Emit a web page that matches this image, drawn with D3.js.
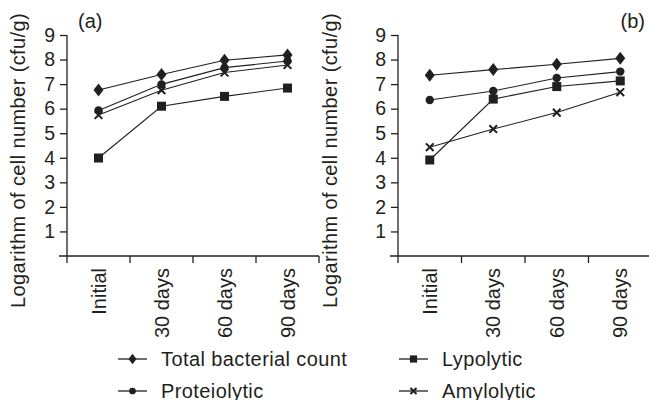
<!DOCTYPE html>
<html><head><meta charset="utf-8">
<script src="https://cdn.jsdelivr.net/npm/d3@7"></script>
<style>body{margin:0;background:#fff}svg{display:block}text{font-family:"Liberation Sans",Arial,sans-serif;fill:#231f20}</style>
</head><body><svg id="c" width="649" height="400"></svg>
<script>
const categories = ["Initial", "30 days", "60 days", "90 days"];
const seriesNames = ["Total bacterial count", "Proteiolytic", "Lypolytic", "Amylolytic"];
const yTicks = [1, 2, 3, 4, 5, 6, 7, 8, 9];
// Panel (a)
const aTotal = [6.76, 7.39, 7.97, 8.19];
const aProteo = [5.93, 6.99, 7.67, 7.94];
const aLypo = [3.99, 6.10, 6.50, 6.84];
const aAmylo = [5.74, 6.75, 7.47, 7.78];
// Panel (b)
const bTotal = [7.36, 7.59, 7.81, 8.05];
const bProteo = [6.35, 6.72, 7.25, 7.51];
const bLypo = [3.91, 6.39, 6.90, 7.13];
const bAmylo = [4.43, 5.17, 5.84, 6.67];

const markers = ["diamond", "circle", "square", "cross"];
const ink = "#231f20";
const svg = d3.select("#c");

function drawMarker(g, type, x, y, s = 1) {
  if (type === "diamond") {
    g.append("path").attr("d", `M0,${-6.5 * s}L${5 * s},0L0,${6.5 * s}L${-5 * s},0Z`).attr("transform", `translate(${x},${y})`).attr("fill", ink);
  } else if (type === "circle") {
    g.append("circle").attr("cx", x).attr("cy", y).attr("r", 4.2 * s).attr("fill", ink);
  } else if (type === "square") {
    g.append("rect").attr("x", x - 4.5 * s).attr("y", y - 4.5 * s).attr("width", 9 * s).attr("height", 9 * s).attr("fill", ink);
  } else {
    g.append("path").attr("d", d3.symbol(d3.symbolX, 40 * s * s)()).attr("transform", `translate(${x},${y})`).attr("stroke", ink).attr("stroke-width", 2).attr("fill", "none");
  }
}

function panel(x0, x1, label, labelX, labelAnchor, titleX, data) {
  const y = d3.scaleLinear().domain([0, 9]).range([256, 35]);
  const x = d3.scaleBand().domain(categories).range([x0, x1]).paddingInner(0).paddingOuter(0);
  const g = svg.append("g");
  // y axis
  const ya = g.append("g").attr("transform", `translate(${x0},0)`)
    .call(d3.axisLeft(y).tickValues(yTicks).tickSize(7).tickSizeOuter(0).tickPadding(5));
  ya.select(".domain").attr("d", `M0,${y(0)}V${y(9)}`);
  ya.selectAll("line,path").attr("stroke", ink).attr("stroke-width", 1.3);
  ya.selectAll("text").style("font-size", "19.5px").attr("fill", ink);
  // x axis
  const xa = g.append("g").attr("transform", `translate(0,${y(0)})`)
    .call(d3.axisBottom(x).tickSize(0).tickPadding(0));
  xa.select(".domain").attr("d", `M${x0 - 8},0H${x1}`).attr("stroke", ink).attr("stroke-width", 1.3);
  xa.selectAll(".tick text").attr("transform", "rotate(-90)").attr("text-anchor", "end")
    .attr("x", -12).attr("y", 0).attr("dy", "0.35em").style("font-size", "20px").attr("fill", ink);
  const bounds = [x0].concat(categories.map(c => x(c) + x.step()));
  g.selectAll(".bt").data(bounds).enter().append("line")
    .attr("x1", d => d).attr("x2", d => d).attr("y1", y(0)).attr("y2", y(0) + 7)
    .attr("stroke", ink).attr("stroke-width", 1.3);
  // title
  g.append("text").attr("transform", `translate(${titleX},308) rotate(-90)`)
    .attr("text-anchor", "start").style("font-size", "20px").style("letter-spacing", "0.4px")
    .text("Logarithm of cell number (cfu/g)");
  g.append("text").attr("x", labelX).attr("y", 28).attr("text-anchor", labelAnchor).style("font-size", "20px").text(label);
  // lines
  const line = d3.line().x((d, i) => x(categories[i]) + x.bandwidth() / 2).y(d => y(d));
  data.forEach((s, k) => {
    g.append("path").attr("d", line(s)).attr("fill", "none").attr("stroke", ink).attr("stroke-width", 1.1);
    s.forEach((v, i) => drawMarker(g, markers[k], x(categories[i]) + x.bandwidth() / 2, y(v)));
  });
}

panel(67, 319, "(a)", 78, "start", 25, [aTotal, aProteo, aLypo, aAmylo]);
panel(398, 652, "(b)", 645, "end", 337, [bTotal, bProteo, bLypo, bAmylo]);

// legend
const lg = svg.append("g");
const legPos = [[118, 359], [118, 391], [399, 359], [399, 391]];
seriesNames.forEach((n, k) => {
  const [lx, ly] = legPos[k];
  lg.append("line").attr("x1", lx).attr("x2", lx + 29).attr("y1", ly).attr("y2", ly).attr("stroke", ink).attr("stroke-width", 1.3);
  drawMarker(lg, markers[k], lx + 14.5, ly, 0.8);
  lg.append("text").attr("x", lx + 43).attr("y", ly + 7).style("font-size", "20px").style("letter-spacing", "0.4px").text(n);
});
</script></body></html>
